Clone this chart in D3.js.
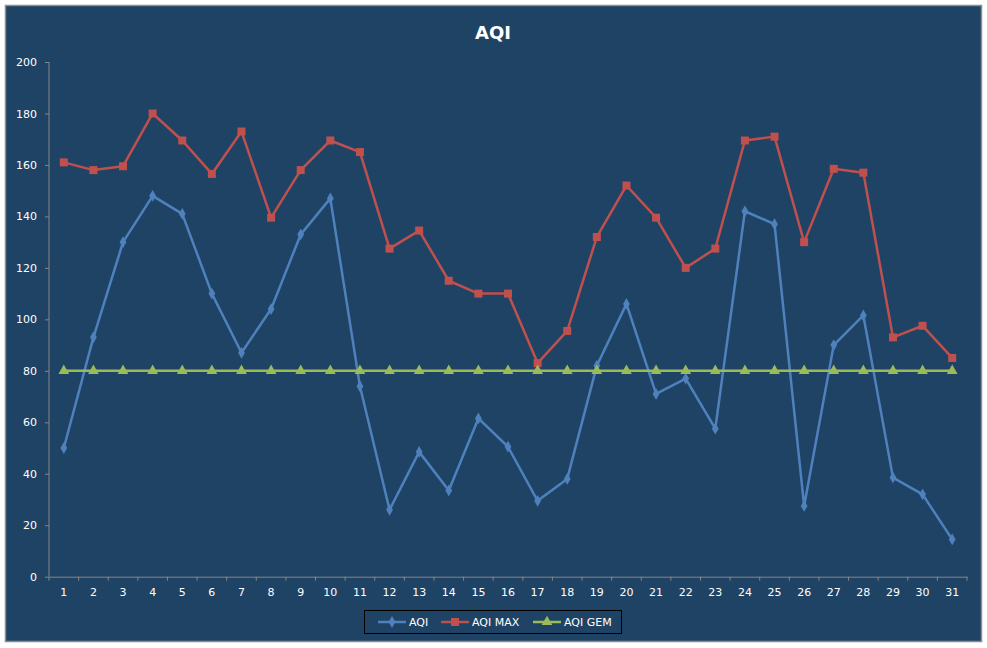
<!DOCTYPE html>
<html>
<head>
<meta charset="utf-8">
<script src="https://cdn.jsdelivr.net/npm/d3@7"></script>
<style>
  body { margin: 0; background: #fff; }
  text { font-family: "DejaVu Sans", Verdana, sans-serif; }
</style>
</head>
<body>
<div class="c_chart"></div>
<script>
/* DATA
------------------------------------------------------ */
const days = d3.range(1, 32).map(String);
const aqi = [50, 93, 130, 148, 141, 110, 87, 104, 133, 147, 74, 26, 48.5, 33.5, 61.5, 50.5,
  29.5, 38, 82, 106, 71, 77, 57.5, 142, 137, 27.5, 90, 101.5, 38.5, 32, 14.5];
const aqiMax = [161, 158, 159.5, 180, 169.5, 156.5, 173, 139.5, 158, 169.5, 165, 127.5, 134.5,
  115, 110, 110, 83, 95.5, 132, 152, 139.5, 120, 127.5, 169.5, 171, 130, 158.5, 157, 93, 97.5, 85];
const aqiGem = days.map(() => 80);
const yTicks = [0, 20, 40, 60, 80, 100, 120, 140, 160, 180, 200];
const seriesNames = ["AQI", "AQI MAX", "AQI GEM"];

/* SVG, FORMAT
------------------------------------------------------ */
const width = 987, height = 648;
const margin = {top: 62, right: 20, bottom: 71, left: 49};
const plotRight = 967;

let svg = d3.select(".c_chart").append("svg")
  .attr("width", width)
  .attr("height", height);

// chart frame
svg.append("rect")
  .attr("x", 5.5).attr("y", 5.5)
  .attr("width", 976).attr("height", 636)
  .attr("fill", "#1f4365")
  .attr("stroke", "#8c8c8c")
  .attr("stroke-width", 1.5);

svg.append("text")
  .attr("x", 493).attr("y", 39)
  .attr("text-anchor", "middle")
  .attr("fill", "#fff")
  .attr("font-size", 18)
  .attr("font-weight", "bold")
  .text("AQI");

/* SCALES, AXES
------------------------------------------------------ */
let x = d3.scaleBand()
  .domain(days)
  .range([margin.left, plotRight]);

let y = d3.scaleLinear()
  .domain([0, 200])
  .range([height - margin.bottom - 0.3, margin.top]);

let xAxis = svg.append("g")
  .attr("transform", `translate(0,${y(0)})`)
  .call(d3.axisBottom(x).tickSize(0).tickPadding(12));
xAxis.selectAll(".tick text").attr("fill", "#fff").attr("font-size", 11);
xAxis.select(".domain").attr("stroke", "#868686");

// category boundary ticks
xAxis.selectAll("line.bound")
  .data(days.concat("end"))
  .enter().append("line")
  .attr("class", "bound")
  .attr("x1", d => d === "end" ? plotRight : x(d))
  .attr("x2", d => d === "end" ? plotRight : x(d))
  .attr("y1", 0).attr("y2", 4)
  .attr("stroke", "#868686");

let yAxis = svg.append("g")
  .attr("transform", `translate(${margin.left},0)`)
  .call(d3.axisLeft(y).tickValues(yTicks).tickSize(4).tickPadding(8));
yAxis.selectAll(".tick text").attr("fill", "#fff").attr("font-size", 11);
yAxis.selectAll(".tick line").attr("stroke", "#868686");
yAxis.select(".domain").attr("stroke", "#868686").attr("d", `M0,${y(200)}V${y(0)}`);

/* LINES
------------------------------------------------------ */
const colors = ["#4f81bd", "#c0504d", "#9bbb59"];
const cx = d => x(d) + x.bandwidth() / 2;

const symbols = [
  d3.symbol().type(d3.symbolDiamond).size(40),
  d3.symbol().type(d3.symbolSquare).size(64),
  d3.symbol().type(d3.symbolTriangle).size(50)
];

let line = d3.line()
  .x((d, i) => cx(days[i]))
  .y(d => y(d));

[aqi, aqiMax, aqiGem].forEach(function(values, s) {
  let g = svg.append("g");
  g.append("path")
    .datum(values)
    .attr("d", line)
    .attr("fill", "none")
    .attr("stroke", colors[s])
    .attr("stroke-width", 2.5)
    .attr("stroke-linejoin", "round");
  g.selectAll("path.marker")
    .data(values)
    .enter().append("path")
    .attr("class", "marker")
    .attr("d", symbols[s])
    .attr("transform", (d, i) => `translate(${cx(days[i])},${y(d)})`)
    .attr("fill", colors[s]);
});

/* LEGEND
------------------------------------------------------ */
let legend = svg.append("g");
legend.append("rect")
  .attr("x", 364.5).attr("y", 610.5)
  .attr("width", 257).attr("height", 23)
  .attr("fill", "none")
  .attr("stroke", "#000")
  .attr("stroke-width", 1);

const legendX = [378, 441, 533];
seriesNames.forEach(function(name, s) {
  let item = legend.append("g").attr("transform", `translate(${legendX[s]},622)`);
  item.append("line")
    .attr("x1", 0).attr("x2", 28)
    .attr("stroke", colors[s]).attr("stroke-width", 2.5);
  item.append("path")
    .attr("d", symbols[s])
    .attr("transform", "translate(14,0)")
    .attr("fill", colors[s]);
  item.append("text")
    .attr("x", 31).attr("y", 4)
    .attr("fill", "#fff")
    .attr("font-size", 11)
    .text(name);
});
</script>
</body>
</html>
